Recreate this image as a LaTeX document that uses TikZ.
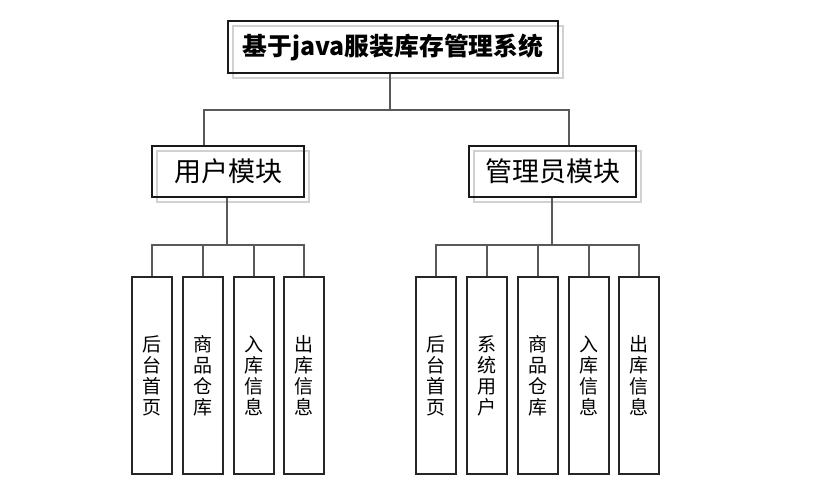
\documentclass[tikz,border=0pt]{standalone}
\usepackage{fontspec}
\newfontfamily\cjk{Noto Sans CJK SC}
\begin{document}
\begin{tikzpicture}[x=1pt,y=-1pt,
  conn/.style={draw=black!65,line width=1.4pt},
  boxshadow/.style={draw=black!18,line width=2pt},
  titlebox/.style={draw=black!90,line width=1.6pt,minimum width=330pt,minimum height=52pt,inner sep=0pt,font=\cjk\bfseries\fontsize{24.8}{28}\selectfont},
  modbox/.style={draw=black!90,line width=1.4pt,minimum height=51pt,inner sep=0pt,font=\cjk\fontsize{27}{30}\selectfont},
  leafbox/.style={draw=black!85,line width=1.2pt,minimum width=40pt,minimum height=197pt,inner sep=0pt,align=center,font=\cjk\fontsize{19}{21}\selectfont}]
\useasboundingbox[fill=white] (0,0) rectangle (818,492);
% shadows
\draw[boxshadow] (233,26) rectangle (563,78);
\draw[boxshadow] (157,151) rectangle (309,202);
\draw[boxshadow] (474,151) rectangle (641,202);
% main nodes
\node[titlebox] (title) at (393,47) {\raisebox{-2pt}{基于java服装库存管理系统}};
\node[modbox,minimum width=152pt] (user) at (228,171.5) {\raisebox{-1pt}{用户模块}};
\node[modbox,minimum width=167pt] (admin) at (552.5,171.5) {\raisebox{-1pt}{管理员模块}};
% leaves
\node[leafbox] (u1) at (152,375.5) {后\\台\\首\\页};
\node[leafbox] (u2) at (203,375.5) {商\\品\\仓\\库};
\node[leafbox] (u3) at (254,375.5) {入\\库\\信\\息};
\node[leafbox] (u4) at (304,375.5) {出\\库\\信\\息};
\node[leafbox] (a1) at (436,375.5) {后\\台\\首\\页};
\node[leafbox] (a2) at (487,375.5) {系\\统\\用\\户};
\node[leafbox] (a3) at (538,375.5) {商\\品\\仓\\库};
\node[leafbox] (a4) at (589,375.5) {入\\库\\信\\息};
\node[leafbox] (a5) at (639,375.5) {出\\库\\信\\息};
% junctions
\coordinate (j0) at (390,110);
\coordinate (ju) at (227,245);
\coordinate (ja) at (552,245);
% connectors
\draw[conn] ([xshift=-3pt]title.south) -- (j0);
\draw[conn] ([xshift=-24pt]user.north) |- (j0) -| ([xshift=16.5pt]admin.north);
\draw[conn] (user.south -| ju) -- (ju);
\draw[conn] (u1.north) |- (ju) -| (u4.north);
\draw[conn] (u2.north) -- (u2.north |- ju);
\draw[conn] (u3.north) -- (u3.north |- ju);
\draw[conn] (admin.south -| ja) -- (ja);
\draw[conn] (a1.north) |- (ja) -| (a5.north);
\draw[conn] (a2.north) -- (a2.north |- ja);
\draw[conn] (a3.north) -- (a3.north |- ja);
\draw[conn] (a4.north) -- (a4.north |- ja);
\end{tikzpicture}
\end{document}
